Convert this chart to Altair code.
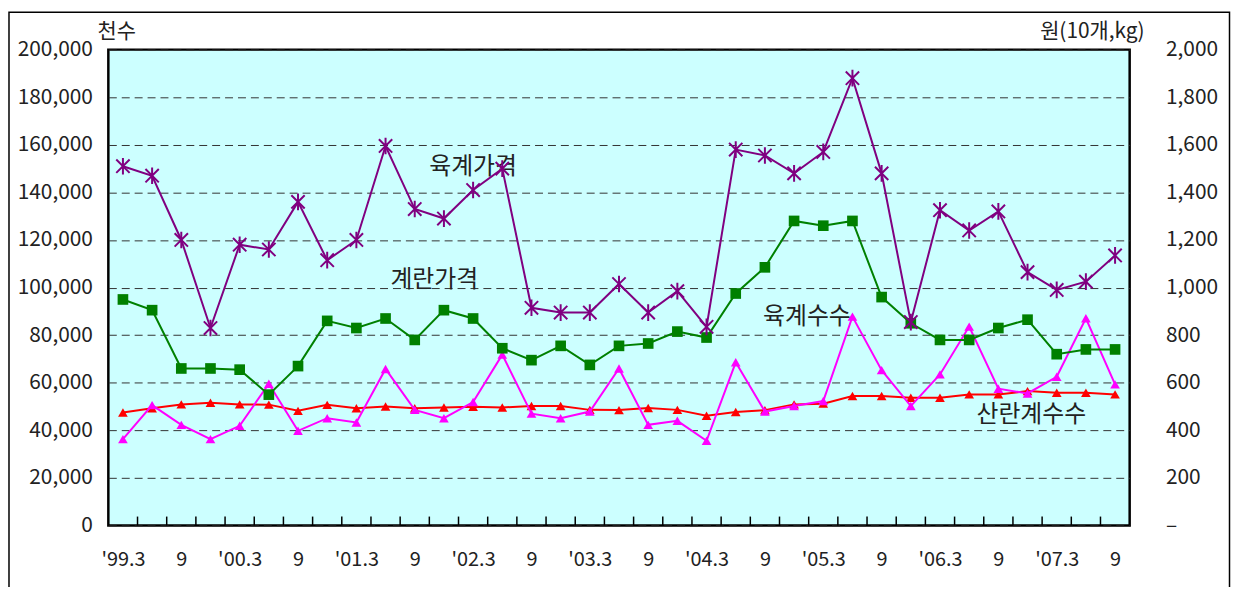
import json
import altair as alt
import pandas as pd

FONT = "Noto Sans CJK KR"
TXT = "#222222"

# ---------------- data ----------------
periods = ["'99.3", "6", "9", "12",
           "'00.3", "6", "9", "12",
           "'01.3", "6", "9", "12",
           "'02.3", "6", "9", "12",
           "'03.3", "6", "9", "12",
           "'04.3", "6", "9", "12",
           "'05.3", "6", "9", "12",
           "'06.3", "6", "9", "12",
           "'07.3", "6", "9"]

# 육계가격 (원/kg, right axis)
broiler_price = [1510, 1470, 1200, 830, 1180, 1160, 1360, 1115, 1200, 1595,
                 1330, 1290, 1410, 1500, 915, 895, 895, 1015, 895, 985,
                 835, 1580, 1555, 1480, 1570, 1880, 1480, 855, 1325, 1240,
                 1320, 1065, 990, 1025, 1135]

# 계란가격 (원/10개, right axis)
egg_price = [950, 905, 660, 660, 655, 550, 670, 860, 830, 870,
             780, 905, 870, 745, 695, 755, 675, 755, 765, 815,
             790, 975, 1085, 1280, 1260, 1280, 960, 850, 780, 780,
             830, 865, 720, 740, 740]

# 육계수수 (천수, left axis)
broiler_count = [36300, 50600, 42300, 36300, 41900, 59600, 39800, 45100, 43300, 65800,
                 48600, 45100, 51900, 71800, 47000, 45100, 47900, 66000, 42300, 44000,
                 35600, 68600, 47900, 50200, 52300, 87800, 65300, 50200, 63500, 83600,
                 57500, 55500, 62500, 87100, 59300]

# 산란계수수 (천수, left axis)
layer_count = [47500, 49300, 50900, 51600, 50900, 50800, 48200, 50700, 49300, 50000,
               49300, 49600, 49900, 49600, 50200, 50200, 48600, 48500, 49400, 48600,
               46100, 47700, 48500, 50900, 51200, 54400, 54400, 53700, 53700, 55100,
               55100, 56500, 55800, 55800, 55100]

# in-chart series labels (x = period index, y = left-axis value)
label_text = ["육계가격", "계란가격", "육계수수", "산란계수수"]
label_x = [12.0, 10.67, 23.44, 31.13]
label_y = [150700, 103100, 87700, 46300]

left_ticks = list(range(0, 200001, 20000))
right_ticks = list(range(0, 2001, 200))

# ---------------- frames ----------------
n = len(periods)
idx = list(range(n))
df = pd.DataFrame({
    "i": idx,
    "broiler_price": broiler_price,
    "egg_price": egg_price,
    "broiler_count": broiler_count,
    "layer_count": layer_count,
})
df_lab = pd.DataFrame({"i": label_x, "v": label_y, "t": label_text})
df_ticks = pd.DataFrame({"i": [k + 0.5 for k in range(n - 1)]})
df_one = pd.DataFrame({"a": [0]})

W, H = 1028, 479
NUM_SIZE = 21

x_axis = alt.Axis(
    values=list(range(0, n, 2)),
    labelExpr=f"{json.dumps(periods, ensure_ascii=False)}[datum.value]",
    ticks=False, domain=False, grid=False, labelFlush=False,
    labelFont=FONT, labelFontSize=20, labelColor=TXT, labelPadding=24,
    labelAngle=0, title=None,
)
x_scale = alt.Scale(domain=[-0.5, n - 0.5], nice=False, zero=False)


def X(field="i"):
    return alt.X(f"{field}:Q", scale=x_scale, axis=x_axis)


left_axis = alt.Axis(
    orient="left", values=left_ticks,
    labelExpr="format(datum.value, ',')",
    grid=True, gridDash=[8, 5], gridColor="#333333", gridWidth=1,
    ticks=False, domain=False,
    labelFont=FONT, labelFontSize=NUM_SIZE, labelColor=TXT, labelPadding=16,
    title="천수", titleAngle=0, titleX=8, titleY=-18, titleAlign="center",
    titleBaseline="middle", titleFont=FONT, titleFontSize=21,
    titleFontWeight="normal", titleColor=TXT,
)
right_axis = alt.Axis(
    orient="right", values=right_ticks,
    labelExpr="datum.value == 0 ? '–' : format(datum.value, ',')",
    grid=False, ticks=False, domain=False,
    labelFont=FONT, labelFontSize=NUM_SIZE, labelColor=TXT, labelPadding=36,
    title="원(10개,kg)", titleAngle=0, titleX=-38, titleY=-18,
    titleAlign="center", titleBaseline="middle", titleFont=FONT,
    titleFontSize=21, titleFontWeight="normal", titleColor=TXT,
)
left_scale = alt.Scale(domain=[0, 200000], nice=False, zero=True)
right_scale = alt.Scale(domain=[0, 2000], nice=False, zero=True)


def YL(field):
    return alt.Y(f"{field}:Q", scale=left_scale, axis=left_axis)


def YR(field):
    return alt.Y(f"{field}:Q", scale=right_scale, axis=right_axis)


STAR = "M-1,-1L1,1M-1,1L1,-1M0,-1.25L0,1.25"
RED, MAG, GRN, PUR = "#FF0000", "#FF00FF", "#008000", "#800080"

base = alt.Chart(df)

# left group (thousands of birds)
frame = alt.Chart(df_one).mark_rect(filled=False, stroke="black", strokeWidth=1.5).encode(
    x=alt.value(-100), x2=alt.value(1128.5), y=alt.value(-37.5), y2=alt.value(700)
)
tick_marks = alt.Chart(df_ticks).mark_rule(color="black", strokeWidth=1.5).encode(
    x=X(), y=alt.value(H - 9), y2=alt.value(H)
)
red_line = base.mark_line(color=RED, strokeWidth=2).encode(x=X(), y=YL("layer_count"))
red_pts = base.mark_point(shape="triangle-up", filled=True, size=95, color=RED, opacity=1).encode(
    x=X(), y=YL("layer_count"))
mag_line = base.mark_line(color=MAG, strokeWidth=2).encode(x=X(), y=YL("broiler_count"))
mag_pts = base.mark_point(shape="triangle-up", filled=True, size=95, color=MAG, opacity=1).encode(
    x=X(), y=YL("broiler_count"))
labels = alt.Chart(df_lab).mark_text(font=FONT, fontSize=24, color=TXT).encode(
    x=X(), y=YL("v"), text="t:N")

left = alt.layer(frame, tick_marks, red_line, red_pts, mag_line, mag_pts, labels)

# right group (won)
grn_line = base.mark_line(color=GRN, strokeWidth=2).encode(x=X(), y=YR("egg_price"))
grn_pts = base.mark_point(shape="square", filled=True, size=115, color=GRN, opacity=1).encode(
    x=X(), y=YR("egg_price"))
pur_line = base.mark_line(color=PUR, strokeWidth=2).encode(x=X(), y=YR("broiler_price"))
pur_pts = base.mark_point(shape=STAR, filled=False, size=180, color=PUR, strokeWidth=2,
                          opacity=1).encode(x=X(), y=YR("broiler_price"))

right = alt.layer(grn_line, grn_pts, pur_line, pur_pts)

chart = (
    alt.layer(left, right)
    .resolve_scale(y="independent")
    .properties(
        width=W, height=H,
        autosize=alt.AutoSizeParams(type="none"),
        padding={"left": 101, "top": 40, "right": 102, "bottom": 60},
        background="white",
    )
    .configure_view(fill="#CCFFFF", stroke="black", strokeWidth=2.5)
)

chart.save("out.html", embed_options={"renderer": "svg", "actions": False})
